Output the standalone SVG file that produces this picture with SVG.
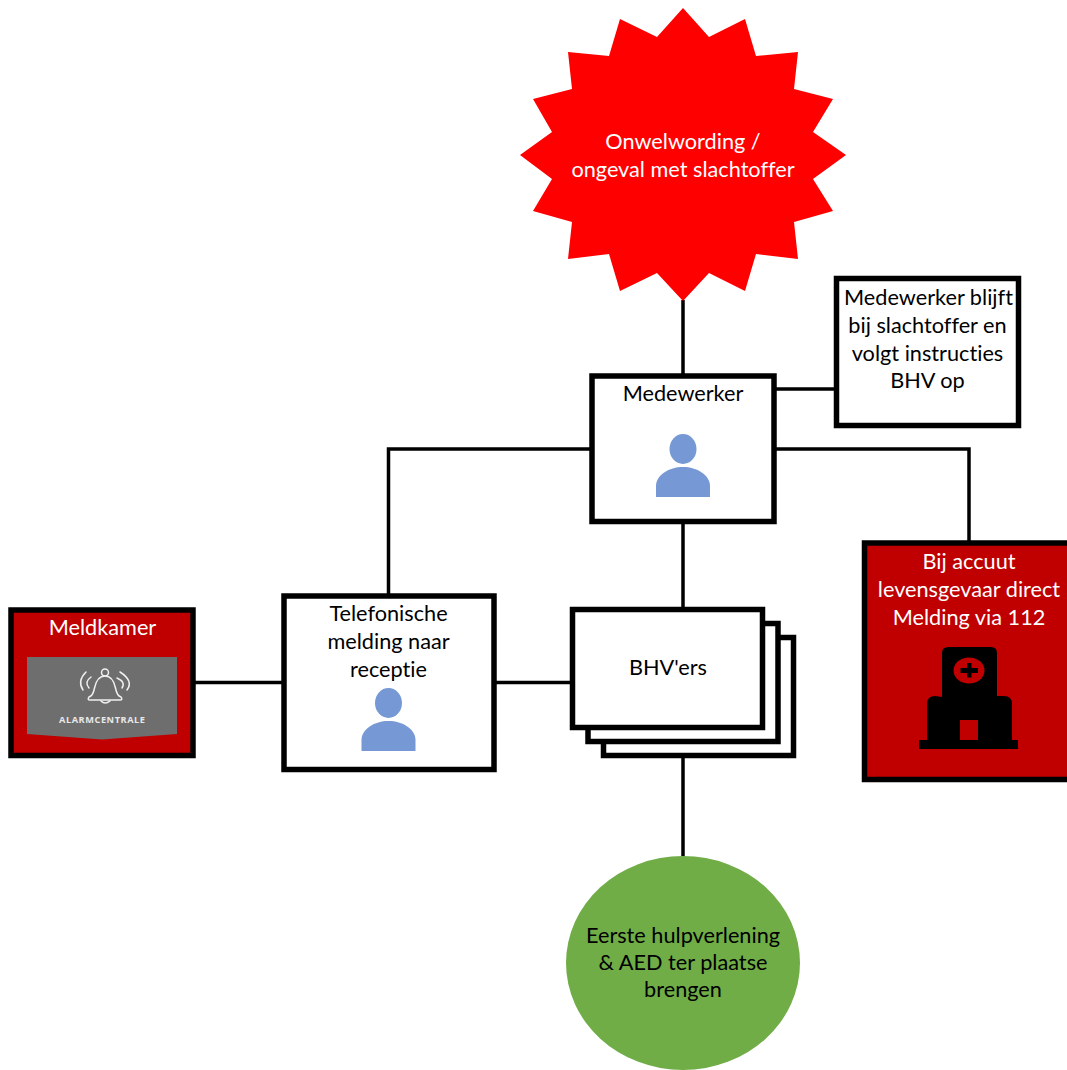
<svg xmlns="http://www.w3.org/2000/svg" width="1067" height="1070" viewBox="0 0 1067 1070">
<defs>
<style>
text{font-family:"Lato","Open Sans","Liberation Sans",sans-serif;font-size:21.7px;text-anchor:middle;fill:#000;font-variant-ligatures:none}
.w{fill:#fff}
.box{fill:#fff;stroke:#000;stroke-width:5.5}
.red{fill:#C00000;stroke:#000;stroke-width:5.5}
.conn{fill:none;stroke:#000;stroke-width:3.5}
.person{fill:#7698D4}
.bell{fill:none;stroke:#F0F0F0;stroke-width:1.5;stroke-linecap:round}
</style>
<g id="person-icon"><ellipse cx="0" cy="0" rx="13.5" ry="15"/><path d="M-27 48V37C-27 26-14 18 0 18S27 26 27 37V48Z"/></g>
</defs>
<rect width="1067" height="1070" fill="#fff"/>
<g id="connectors">
<path class="conn" d="M683 300V376"/>
<path class="conn" d="M774 389H836"/>
<path class="conn" d="M774 449H969V543"/>
<path class="conn" d="M592 449H388.500V596"/>
<path class="conn" d="M683 521V609"/>
<path class="conn" d="M193 682.500H284"/>
<path class="conn" d="M494 682.500H572"/>
<path class="conn" d="M683 756V858"/>
</g>
<g id="incident">
<polygon fill="#FF0000" points="683,8 709,37 745,19 756,56 798,52 794,89 833,99 813,132 846,155 813,179 833,211 794,222 798,259 756,254 745,291 709,273 683,301 657,273 620,291 609,254 568,259 572,222 533,211 552,179 520,155 552,132 533,99 572,89 568,52 609,56 620,19 657,37"/>
<text class="w" x="683" y="149">Onwelwording /</text>
<text class="w" x="683" y="176.500">ongeval met slachtoffer</text>
</g>
<g id="medewerker">
<rect class="box" x="592" y="376" width="182" height="145.500"/>
<text x="683" y="401">Medewerker</text>
<use href="#person-icon" x="683" y="449" class="person"/>
</g>
<g id="instructies">
<rect class="box" x="836.500" y="278.500" width="182" height="147"/>
<text x="928.500" y="305">Medewerker blijft</text>
<text x="927.500" y="333">bij slachtoffer en</text>
<text x="927.500" y="360.500">volgt instructies</text>
<text x="927.500" y="388">BHV op</text>
</g>
<g id="accuut">
<rect class="red" x="864.500" y="543" width="210" height="236.500"/>
<text class="w" x="969" y="569">Bij accuut</text>
<text class="w" x="969" y="597">levensgevaar direct</text>
<text class="w" x="969" y="624.500">Melding via 112</text>
<path d="M942 697V653Q942 647 948 647H991Q997 647 997 653V696H1004Q1012 696 1012 704V740H1018V749H919V740H927V704Q927 696 935 696Z"/>
<ellipse cx="969" cy="670.500" rx="15.500" ry="13" fill="#C00000"/>
<path d="M967 663H971.500V668H978V673H971.500V677.500H967V673H960.500V668H967Z"/>
<rect x="960" y="720" width="18" height="20" fill="#C00000"/>
</g>
<g id="meldkamer">
<rect class="red" x="11" y="610" width="182" height="145.500"/>
<text class="w" x="102.500" y="635">Meldkamer</text>
<path fill="#6E6E6E" d="M27 657H177V734L102 739.500L27 734Z"/>
<circle class="bell" cx="105" cy="672.500" r="3.500"/>
<path class="bell" d="M89 697Q93 696 94.500 688Q97 676 105 676Q113 676 115.500 688Q117 696 121 697Q123 700 120 700H90Q87 700 89 697Z"/>
<path class="bell" d="M101 701Q105 705 110 701"/>
<path class="bell" d="M86 672Q77 681 83 690M91 677Q84 682 89 688M120 672Q134 681 127 690M117 678Q126 682 122 688"/>
<text x="102" y="722.500" textLength="86" style="font-family:'Open Sans','Liberation Sans',sans-serif;font-size:9.200px;font-weight:700;fill:#E8E8E8">ALARMCENTRALE</text>
</g>
<g id="receptie">
<rect class="box" x="284" y="596" width="210" height="173.500"/>
<text x="388.500" y="621">Telefonische</text>
<text x="388.500" y="649">melding naar</text>
<text x="388.500" y="676.500">receptie</text>
<use href="#person-icon" x="388.500" y="703" class="person"/>
</g>
<g id="bhv">
<rect class="box" x="603.500" y="637.500" width="190" height="118"/>
<rect class="box" x="588" y="623.500" width="190" height="118"/>
<rect class="box" x="572.500" y="609.500" width="190" height="118"/>
<text x="668" y="675">BHV'ers</text>
</g>
<g id="hulpverlening">
<ellipse cx="683" cy="963" rx="117" ry="107" fill="#70AD47"/>
<text x="683" y="943">Eerste hulpverlening</text>
<text x="683" y="970">&amp; AED ter plaatse</text>
<text x="683" y="997">brengen</text>
</g>
</svg>
